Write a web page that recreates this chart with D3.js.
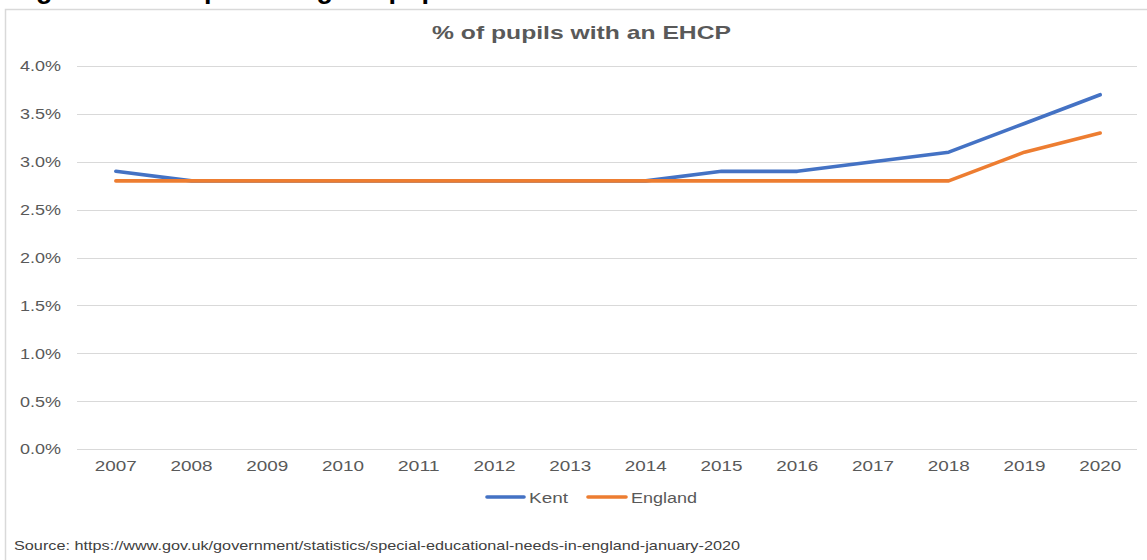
<!DOCTYPE html>
<html>
<head>
<meta charset="utf-8">
<script src="https://cdn.jsdelivr.net/npm/d3@7"></script>
<style>
  html, body { margin: 0; padding: 0; background: #fff; }
  svg { display: block; }
  text { font-family: "Liberation Sans", Arial, sans-serif; }
</style>
</head>
<body>
<svg id="chart" width="1147" height="560"></svg>
<script>
const years = ["2007","2008","2009","2010","2011","2012","2013","2014","2015","2016","2017","2018","2019","2020"];
const kent = [2.9, 2.8, 2.8, 2.8, 2.8, 2.8, 2.8, 2.8, 2.9, 2.9, 3.0, 3.1, 3.4, 3.7];
const england = [2.8, 2.8, 2.8, 2.8, 2.8, 2.8, 2.8, 2.8, 2.8, 2.8, 2.8, 2.8, 3.1, 3.3];
const yTicks = [0, 0.5, 1.0, 1.5, 2.0, 2.5, 3.0, 3.5, 4.0];
const seriesNames = ["Kent", "England"];
const seriesColors = ["#4472C4", "#ED7D31"];
const chartTitle = "% of pupils with an EHCP";
const heading = "Figure 14: The percentage of pupils with an EHCP in Kent 2007-2020";
const sourceText = "Source: https://www.gov.uk/government/statistics/special-educational-needs-in-england-january-2020";

const svg = d3.select("#chart");

// heading of the page, cut off by the top edge (as in the reference)
svg.append("text")
  .attr("x", 12).attr("y", -2)
  .attr("font-size", 27).attr("font-weight", "bold").attr("fill", "#000")
  .text(heading);

// chart frame
svg.append("path")
  .attr("d", "M5.5,562 V9.5 H1150")
  .attr("fill", "none").attr("stroke", "#d9d9d9").attr("stroke-width", 1.5);

const x = d3.scaleBand().domain(years).range([78, 1138]);
const y = d3.scaleLinear().domain([0, 4]).range([449, 66]);

// gridlines
svg.append("g").selectAll("line").data(yTicks).join("line")
  .attr("x1", 77).attr("x2", 1137)
  .attr("y1", d => Math.round(y(d)) + 0.5).attr("y2", d => Math.round(y(d)) + 0.5)
  .attr("stroke", "#d9d9d9").attr("stroke-width", 1);

// y axis labels
const yAxis = d3.axisLeft(y).tickValues(yTicks).tickFormat(d => d.toFixed(1) + "%").tickSize(0).tickPadding(0);
const yg = svg.append("g").attr("transform", "translate(61,0)").call(yAxis);
yg.select(".domain").remove();
yg.selectAll("text")
  .attr("font-family", "Liberation Sans, Arial, sans-serif")
  .attr("font-size", 15.5).attr("fill", "#595959")
  .attr("textLength", 41).attr("lengthAdjust", "spacingAndGlyphs");

// x axis labels
const xAxis = d3.axisBottom(x).tickSize(0).tickPadding(0);
const xg = svg.append("g").attr("transform", "translate(0,460)").call(xAxis);
xg.select(".domain").remove();
xg.selectAll("text")
  .attr("font-family", "Liberation Sans, Arial, sans-serif")
  .attr("font-size", 15.5).attr("fill", "#595959")
  .attr("textLength", 42).attr("lengthAdjust", "spacingAndGlyphs");

// lines (England drawn last so it sits on top where they overlap)
const line = d3.line().x((d, i) => x(years[i]) + x.bandwidth() / 2).y(d => y(d));
[kent, england].forEach((vals, k) => {
  svg.append("path").datum(vals)
    .attr("d", line)
    .attr("fill", "none").attr("stroke", seriesColors[k])
    .attr("stroke-width", 3.6).attr("stroke-linecap", "round").attr("stroke-linejoin", "round");
});

// title
svg.append("text")
  .attr("x", 432).attr("y", 39)
  .attr("font-size", 19).attr("font-weight", "bold").attr("fill", "#595959")
  .attr("textLength", 299).attr("lengthAdjust", "spacingAndGlyphs")
  .text(chartTitle);

// legend
const legendItems = [
  {name: seriesNames[0], color: seriesColors[0], x1: 487, x2: 524, tx: 529, tw: 39},
  {name: seriesNames[1], color: seriesColors[1], x1: 588, x2: 626, tx: 631, tw: 66}
];
const lg = svg.append("g");
legendItems.forEach(it => {
  lg.append("line").attr("x1", it.x1).attr("x2", it.x2).attr("y1", 497).attr("y2", 497)
    .attr("stroke", it.color).attr("stroke-width", 3.6).attr("stroke-linecap", "round");
  lg.append("text").attr("x", it.tx).attr("y", 503)
    .attr("font-size", 15.5).attr("fill", "#595959")
    .attr("textLength", it.tw).attr("lengthAdjust", "spacingAndGlyphs")
    .text(it.name);
});

// source
svg.append("text")
  .attr("x", 14).attr("y", 550)
  .attr("font-size", 13.5).attr("fill", "#404040")
  .attr("textLength", 726).attr("lengthAdjust", "spacingAndGlyphs")
  .text(sourceText);
</script>
</body>
</html>
